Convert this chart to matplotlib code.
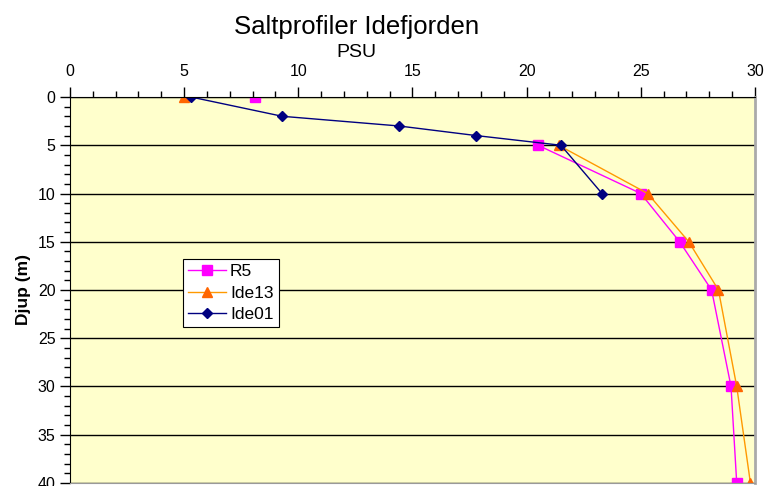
import numpy as np
import matplotlib.pyplot as plt
from matplotlib.ticker import MultipleLocator

plt.rcParams['font.family'] = ['Liberation Sans', 'DejaVu Sans']

# depth (m) and salinity (PSU); nan = no reading between surface and 5 m
r5_depth = [0, 2.5, 5, 10, 15, 20, 30, 40]
r5_psu = [8.1, np.nan, 20.5, 25.0, 26.7, 28.1, 28.95, 29.2]
ide13_depth = [0, 2.5, 5, 10, 15, 20, 30, 40]
ide13_psu = [5.0, np.nan, 21.4, 25.3, 27.1, 28.4, 29.2, 29.8]
ide01_depth = [0, 2, 3, 4, 5, 10]
ide01_psu = [5.3, 9.3, 14.4, 17.8, 21.5, 23.3]

fig = plt.figure(figsize=(7.64, 4.86), dpi=100)
ax = fig.add_axes([0.0916, 0.0062, 0.8966, 0.7942])
ax.set_facecolor('#FFFFCC')

ax.plot(r5_psu, r5_depth, color='#FF00FF', marker='s', ms=7, lw=1, label='R5')
ax.plot(ide13_psu, ide13_depth, color='#FF9900', marker='^', ms=7,
        mfc='#FF6600', mec='#FF6600', lw=1, label='Ide13')
ax.plot(ide01_psu, ide01_depth, color='#000080', marker='D', ms=5.5, lw=1, label='Ide01')

ax.set_xlim(0, 30)
ax.set_ylim(40, 0)
ax.xaxis.tick_top()
ax.xaxis.set_major_locator(MultipleLocator(5))
ax.xaxis.set_minor_locator(MultipleLocator(1))
ax.yaxis.set_major_locator(MultipleLocator(5))
ax.yaxis.set_minor_locator(MultipleLocator(1))
ax.tick_params(which='major', length=7, width=1, labelsize=11.5, color='black')
ax.tick_params(which='minor', length=4, width=1, color='black')
ax.tick_params(axis='x', pad=6)
ax.grid(axis='y', which='major', color='black', lw=1)

ax.spines['bottom'].set_color('#999999')
ax.spines['right'].set_color('#AAAAAA')
ax.spines['right'].set_linewidth(2)

ax.set_ylabel('Djup (m)', fontsize=12.5, fontweight='bold', labelpad=5)
fig.text(0.467, 0.944, 'Saltprofiler Idefjorden', fontsize=18.5, ha='center', va='center')
fig.text(0.467, 0.891, 'PSU', fontsize=14, ha='center', va='center')

leg = ax.legend(loc='upper left', bbox_to_anchor=(0.165, 0.58), fontsize=12.5,
                frameon=True, fancybox=False, framealpha=1, edgecolor='black',
                borderpad=0.3, labelspacing=0.35, handlelength=2.2, handletextpad=0.2,
                borderaxespad=0)
leg.get_frame().set_linewidth(0.8)

fig.savefig('out.png', dpi=100)
